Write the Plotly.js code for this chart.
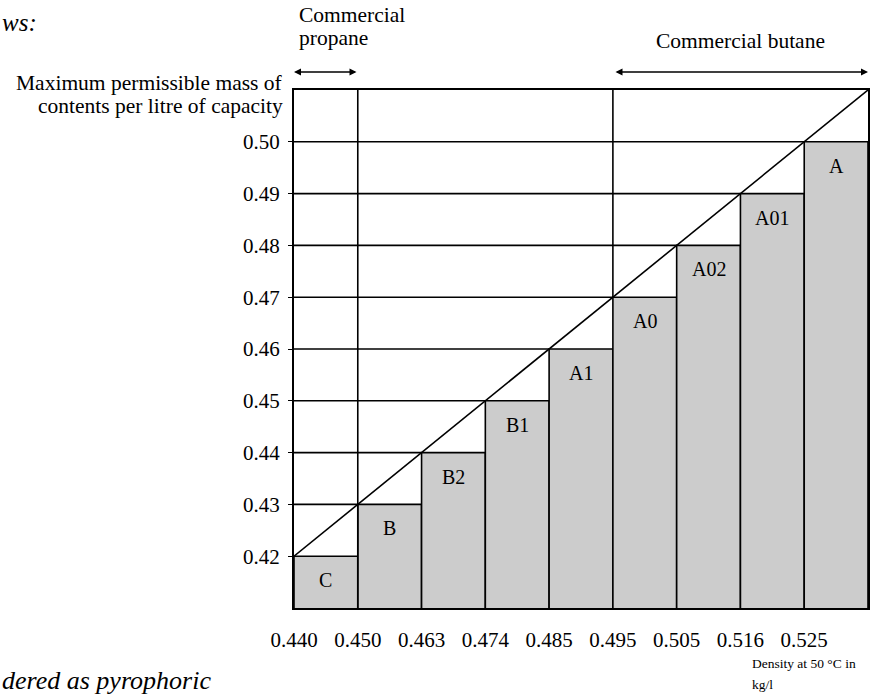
<!DOCTYPE html>
<html>
<head>
<meta charset="utf-8">
<script src="https://cdn.plot.ly/plotly-3.0.1.min.js"></script>
<style>html,body{margin:0;padding:0;background:#fff;}#chart{width:887px;height:695px;}</style>
</head>
<body>
<div id="chart"></div>
<script>
// Density boundaries (kg/l at 50 °C), shown as tick labels at bar edges
const densityTicks = ['0.440','0.450','0.463','0.474','0.485','0.495','0.505','0.516','0.525'];
// Mixture names and maximum permissible mass per litre of capacity
const mixtures = ['C','B','B2','B1','A1','A0','A02','A01','A'];
const maxMass = [0.42,0.43,0.44,0.45,0.46,0.47,0.48,0.49,0.50];
const yTickVals = [0.42,0.43,0.44,0.45,0.46,0.47,0.48,0.49,0.50];
const yTickText = ['0.42','0.43','0.44','0.45','0.46','0.47','0.48','0.49','0.50'];
// Diagonal reference line endpoints
const diagX = [0, 9];
const diagY = [0.42, 0.51];
// Vertical separators: propane limit and butane start
const propaneEdge = 1;
const butaneEdge = 5;

const FONT = 'Liberation Serif, Times New Roman, serif';
const W = 887, H = 695, L = 294, R = 19, T = 90, B = 87;
const PW = W - L - R, PH = H - T - B;
const px = x => (x - L) / PW;
const py = y => (H - B - y) / PH;

const barX = mixtures.map((_, i) => i + 0.5);

const hx = [], hy = [];
maxMass.forEach((v, i) => { if (i > 0) { hx.push(0, i, null); hy.push(v, v, null); } });

const traces = [
  {type:'bar', x: barX, y: maxMass, width: 1,
   marker:{color:'#cccccc', line:{color:'#000', width:1.6}}, hoverinfo:'skip'},
  {type:'scatter', mode:'lines', x: hx, y: hy, line:{color:'#000', width:1.6}, hoverinfo:'skip'},
  {type:'scatter', mode:'lines', x: diagX, y: diagY, line:{color:'#000', width:1.6}, hoverinfo:'skip'},
  {type:'scatter', mode:'lines', x: [propaneEdge, propaneEdge, null, butaneEdge, butaneEdge],
   y: [0.41, 0.51, null, maxMass[butaneEdge], 0.51], line:{color:'#000', width:1.6}, hoverinfo:'skip'}
];

const annotations = mixtures.map((m, i) => ({
  x: barX[i], y: maxMass[i], xref:'x', yref:'y', text: m, showarrow:false,
  yanchor:'top', yshift:-11, font:{family:FONT, size:20, color:'#000'}
}));

const txt = (text, x, y, xa, ya, size, extra) => Object.assign({
  text, x: px(x), y: py(y), xref:'paper', yref:'paper', xanchor: xa, yanchor: ya,
  showarrow:false, font:{family:FONT, size, color:'#000'}, align: xa === 'right' ? 'right' : 'left'
}, extra || {});

annotations.push(
  txt('ws:', 0, 22, 'left', 'middle', 25, {font:{family:FONT, size:25, color:'#000', style:'italic'}}),
  txt('Commercial', 297, 15, 'left', 'middle', 21.5),
  txt('propane', 297, 38, 'left', 'middle', 21.5),
  txt('Commercial butane', 740, 41, 'center', 'middle', 21.5),
  txt('Maximum permissible mass of', 285, 83, 'right', 'middle', 21.5),
  txt('contents per litre of capacity', 285, 106, 'right', 'middle', 21.5),
  txt('Density at 50 °C in', 750, 663, 'left', 'middle', 13.5),
  txt('kg/l', 750, 684, 'left', 'middle', 13.5),
  txt('dered as pyrophoric', 0, 664, 'left', 'top', 26, {font:{family:FONT, size:26, color:'#000', style:'italic'}}),
  {x: px(294), y: py(72), ax: px(358), ay: py(72), xref:'paper', yref:'paper', axref:'paper', ayref:'paper',
   text:'', showarrow:true, arrowside:'end+start', arrowhead:2, arrowsize:1, arrowwidth:1.4, arrowcolor:'#000'},
  {x: px(868), y: py(72), ax: px(614), ay: py(72), xref:'paper', yref:'paper', axref:'paper', ayref:'paper',
   text:'', showarrow:true, arrowside:'end+start', arrowhead:2, arrowsize:1, arrowwidth:1.4, arrowcolor:'#000'}
);

const layout = {
  width: W, height: H,
  margin:{l:L, r:R, t:T, b:B, pad:0},
  paper_bgcolor:'#fff', plot_bgcolor:'#fff',
  showlegend:false, bargap:0,
  xaxis:{range:[0,9], tickvals: densityTicks.map((_, i) => i), ticktext: densityTicks,
         showgrid:false, zeroline:false, showline:true, mirror:true, linecolor:'#000', linewidth:2,
         ticks:'', ticklabelstandoff:12, tickfont:{family:FONT, size:21, color:'#000'}, fixedrange:true},
  yaxis:{range:[0.41,0.51], tickvals: yTickVals, ticktext: yTickText,
         showgrid:false, zeroline:false, showline:true, mirror:true, linecolor:'#000', linewidth:2,
         ticks:'outside', ticklen:4, tickcolor:'#000', ticklabelstandoff:4,
         tickfont:{family:FONT, size:21, color:'#000'}, fixedrange:true},
  annotations
};

Plotly.newPlot('chart', traces, layout, {displayModeBar:false, staticPlot:true});
</script>
</body>
</html>
